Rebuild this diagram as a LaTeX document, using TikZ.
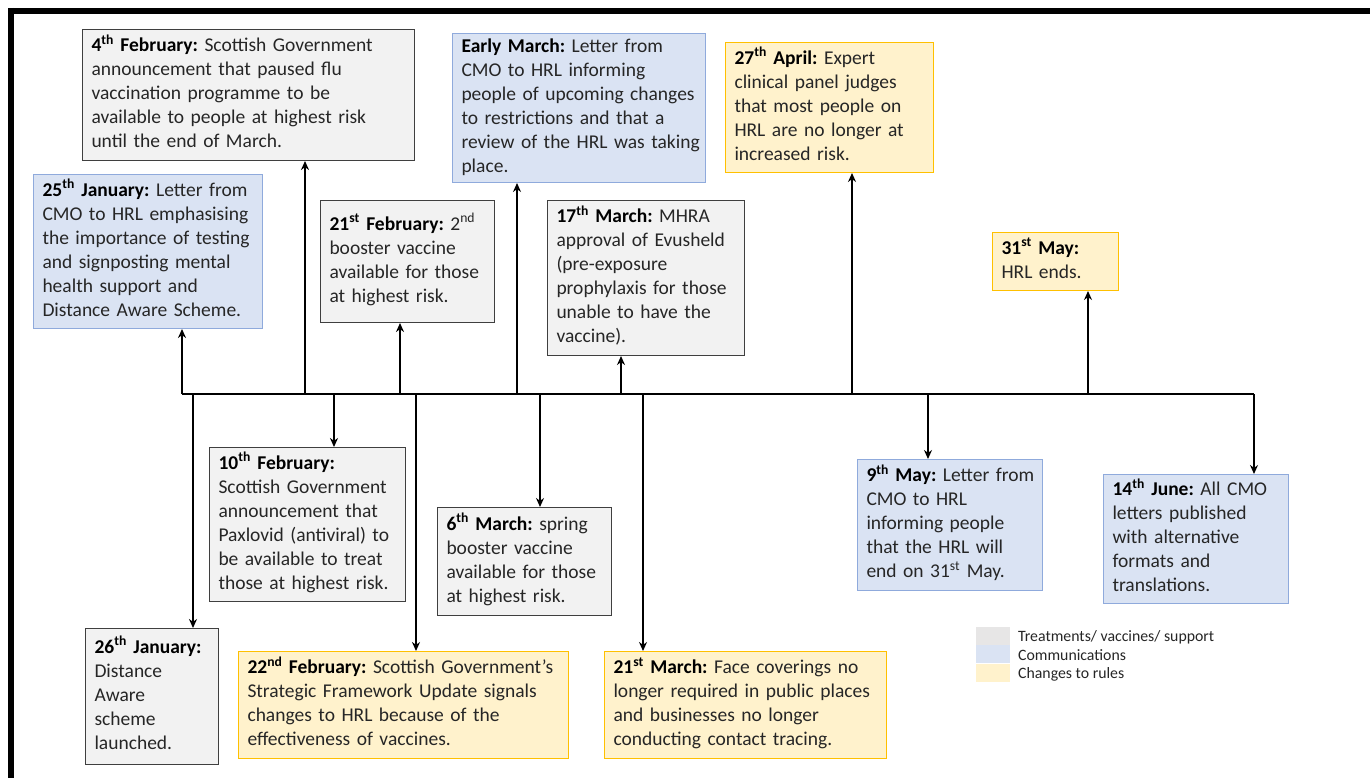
\documentclass[tikz,border=0pt]{standalone}
\usepackage{fontspec}
\setmainfont{Carlito}
\usetikzlibrary{arrows.meta}
\definecolor{gfill}{HTML}{F2F2F2}
\definecolor{gline}{HTML}{3F3F3F}
\definecolor{bfill}{HTML}{DAE3F3}
\definecolor{bline}{HTML}{8FAADC}
\definecolor{yfill}{HTML}{FFF2CC}
\definecolor{yline}{HTML}{FFC000}
\definecolor{lgray}{HTML}{E7E6E6}
\definecolor{txt}{HTML}{262626}
% bold date heading with an ordinal suffix
\newcommand{\hd}[3]{\textbf{\color{black}#1\textsuperscript{#2} #3}}
% one event text: lines kept exactly as broken
\newcommand{\ev}[1]{\begin{tabular}{@{}l@{}}#1\end{tabular}}
\tikzset{
  evbox/.style={draw, rectangle, anchor=north west, align=left, line width=1pt,
    inner xsep=9pt, inner ysep=0pt, text=txt,
    font=\fontsize{19.5}{24}\selectfont\frenchspacing},
  gbox/.style={evbox, fill=gfill, draw=gline},
  bbox/.style={evbox, fill=bfill, draw=bline},
  ybox/.style={evbox, fill=yfill, draw=yline},
  stem/.style={line width=2.6pt, -{Stealth[length=9pt,width=8pt]}},
  axis/.style={line width=1.6pt},
  swatch/.style={draw=none, anchor=north west, minimum width=34pt, minimum height=18pt, inner sep=0pt},
  legtext/.style={anchor=west, text=txt, font=\fontsize{15.8}{18}\selectfont, inner sep=0pt}
}
\begin{document}
\begin{tikzpicture}[x=1pt,y=-1pt]
\useasboundingbox (0,0) rectangle (1370,778);
\fill[white] (0,0) rectangle (1370,778);
% frame edges (top and left)
\draw[line width=6pt] (8,11) -- (1370,11);
\draw[line width=6pt] (11,8) -- (11,778);

% event boxes above the time line
\node[gbox, text width=314pt, minimum height=131pt] (feb4) at (82,29)
  {\ev{\hd{4}{th}{February:} Scottish Government\\announcement that paused flu\\vaccination programme to be\\available to people at highest risk\\until the end of March.}};
\node[bbox, text width=211pt, minimum height=154pt] (jan25) at (33,174)
  {\ev{\hd{25}{th}{January:} Letter from\\CMO to HRL emphasising\\the importance of testing\\and signposting mental\\health support and\\Distance Aware Scheme.}};
\node[gbox, text width=156pt, minimum height=122pt] (feb21) at (320,200)
  {\ev{\hd{21}{st}{February:} 2\textsuperscript{nd}\\booster vaccine\\available for those\\at highest risk.}};
\node[bbox, text width=235pt, minimum height=149pt] (earlymar) at (452,33)
  {\ev{\textbf{\color{black}Early March:} Letter from\\CMO to HRL informing\\people of upcoming changes\\to restrictions and that a\\review of the HRL was taking\\place.}};
\node[gbox, text width=179pt, minimum height=155pt] (mar17) at (547,200)
  {\ev{\hd{17}{th}{March:} MHRA\\approval of Evusheld\\(pre-exposure\\prophylaxis for those\\unable to have the\\vaccine).}};
\node[ybox, text width=190pt, minimum height=130pt] (apr27) at (725,42)
  {\ev{\hd{27}{th}{April:} Expert\\clinical panel judges\\that most people on\\HRL are no longer at\\increased risk.}};
\node[ybox, text width=108pt, minimum height=58pt] (may31) at (992,232)
  {\ev{\hd{31}{st}{May:}\\HRL ends.}};

% event boxes below the time line
\node[gbox, text width=115pt, minimum height=136pt] (jan26) at (85,628)
  {\ev{\hd{26}{th}{January:}\\Distance\\Aware\\scheme\\launched.}};
\node[gbox, text width=178pt, minimum height=154pt] (feb10) at (209,447)
  {\ev{\hd{10}{th}{February:}\\Scottish Government\\announcement that\\Paxlovid (antiviral) to\\be available to treat\\those at highest risk.}};
\node[ybox, text width=312pt, minimum height=107pt] (feb22) at (238,651)
  {\ev{\hd{22}{nd}{February:} Scottish Government’s\\Strategic Framework Update signals\\changes to HRL because of the\\effectiveness of vaccines.}};
\node[gbox, text width=156pt, minimum height=108pt] (mar6) at (437,507)
  {\ev{\hd{6}{th}{March:} spring\\booster vaccine\\available for those\\at highest risk.}};
\node[ybox, text width=264pt, minimum height=107pt] (mar21) at (604,651)
  {\ev{\hd{21}{st}{March:} Face coverings no\\longer required in public places\\and businesses no longer\\conducting contact tracing.}};
\node[bbox, text width=167pt, minimum height=131pt] (may9) at (857,459)
  {\ev{\hd{9}{th}{May:} Letter from\\CMO to HRL\\informing people\\that the HRL will\\end on 31\textsuperscript{st} May.}};
\node[bbox, text width=167pt, minimum height=129pt] (jun14) at (1103,474)
  {\ev{\hd{14}{th}{June:} All CMO\\letters published\\with alternative\\formats and\\translations.}};

% time line and its branch points
\coordinate (tl) at (182,394);
\coordinate (tr) at (1254,394);
\draw[axis] (tl) -- (tr);
\coordinate (p1) at (182,394);
\coordinate (p2) at (193,394);
\coordinate (p3) at (305,394);
\coordinate (p4) at (334,394);
\coordinate (p5) at (400,394);
\coordinate (p6) at (416,394);
\coordinate (p7) at (517,394);
\coordinate (p8) at (540,394);
\coordinate (p9) at (621,394);
\coordinate (p10) at (643,394);
\coordinate (p11) at (852,394);
\coordinate (p12) at (928,394);
\coordinate (p13) at (1088,394);
\coordinate (p14) at (1254,394);

\draw[stem] (p1) -- (p1 |- jan25.south);
\draw[stem] (p2) -- (p2 |- jan26.north);
\draw[stem] (p3) -- (p3 |- feb4.south);
\draw[stem] (p4) -- (p4 |- feb10.north);
\draw[stem] (p5) -- (p5 |- feb21.south);
\draw[stem] (p6) -- (p6 |- feb22.north);
\draw[stem] (p7) -- (p7 |- earlymar.south);
\draw[stem] (p8) -- (p8 |- mar6.north);
\draw[stem] (p9) -- (p9 |- mar17.south);
\draw[stem] (p10) -- (p10 |- mar21.north);
\draw[stem] (p11) -- (p11 |- apr27.south);
\draw[stem] (p12) -- (p12 |- may9.north);
\draw[stem] (p13) -- (p13 |- may31.south);
\draw[stem] (p14) -- (p14 |- jun14.north);

% legend
\node[swatch, fill=lgray] (sw1) at (976,627) {};
\node[swatch, fill=bfill] (sw2) at (976,645) {};
\node[swatch, fill=yfill] (sw3) at (976,664) {};
\node[legtext] (lg1) at (1018,637) {Treatments/ vaccines/ support};
\node[legtext] (lg2) at (1018,655) {Communications};
\node[legtext] (lg3) at (1018,674) {Changes to rules};
\end{tikzpicture}
\end{document}
